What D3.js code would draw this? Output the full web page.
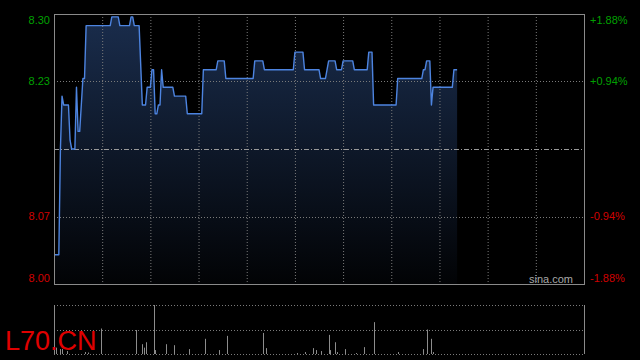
<!DOCTYPE html>
<html>
<head>
<meta charset="utf-8">
<script src="https://cdn.jsdelivr.net/npm/d3@7"></script>
<style>
  html, body { margin: 0; padding: 0; background: #000; }
  svg { display: block; }
  text { font-family: "Liberation Sans", Arial, sans-serif; }
</style>
</head>
<body>
<svg id="chart" width="640" height="360"></svg>
<script>
// previous close and the +/- percent ticks
const prevClose = 8.15;
const pctTicks = [1.88, 0.94, 0, -0.94, -1.88];
const sessionMinutes = 330;
const gridMinutes = d3.range(30, 330, 30);

// minute from open, price
const priceMinutes = [0, 3, 4, 5, 6, 9, 10, 11, 13, 14, 15, 16, 18, 19, 20, 35, 36, 40, 41, 47, 48, 49, 50, 53,
  55, 57, 58, 60, 61, 62, 63, 64, 65, 66, 67, 68, 74, 75, 82, 83, 92, 93, 101, 102, 106, 107, 124, 125,
  130, 131, 149, 150, 155, 156, 165, 166, 169, 171, 175, 176, 179, 180, 186, 187, 195, 196, 198, 199,
  213, 214, 229, 230, 231, 232, 234, 235, 236, 248, 249, 251];
const prices = [8.03, 8.03, 8.15, 8.21, 8.20, 8.20, 8.16, 8.15, 8.15, 8.22, 8.17, 8.17, 8.23, 8.23, 8.29, 8.29, 8.30, 8.30, 8.29, 8.29, 8.30, 8.30, 8.29, 8.29,
  8.20, 8.20, 8.22, 8.22, 8.24, 8.24, 8.19, 8.19, 8.20, 8.20, 8.24, 8.22, 8.22, 8.21, 8.21, 8.19, 8.19, 8.24, 8.24, 8.25, 8.25, 8.23, 8.23, 8.25,
  8.25, 8.24, 8.24, 8.26, 8.26, 8.24, 8.24, 8.23, 8.23, 8.25, 8.25, 8.24, 8.24, 8.25, 8.25, 8.24, 8.24, 8.26, 8.26, 8.20,
  8.20, 8.23, 8.23, 8.24, 8.24, 8.25, 8.25, 8.20, 8.22, 8.22, 8.24, 8.24];

// volume bars (minute, relative volume)
const volMinutes = [1, 4, 5, 8, 19, 21, 29, 51, 55, 56, 57, 62, 63, 70, 75, 84, 94, 103, 108, 130, 132,
  151, 156, 161, 163, 166, 171, 172, 175, 176, 181, 188, 193, 199, 214, 230, 232, 235, 236];
const volumes = [13, 10, 10, 6, 4, 3, 52, 49, 20, 13, 24, 140, 8, 20, 18, 10, 31, 8, 37, 43, 12,
  2, 4, 12, 8, 6, 39, 8, 24, 4, 10, 2, 14, 65, 4, 10, 50, 31, 4];

const symbol = 'L70.CN';
const brand = 'sina.com';

const plot = {l: 54, r: 584, t: 14, b: 284};
const volBox = {t: 305, b: 354};

const green = '#00a000', red = '#d00000', grid = '#7a7a7a';

const svg = d3.select('#chart');

const xS = d3.scaleLinear().domain([0, sessionMinutes]).range([plot.l, plot.r]);
const yS = d3.scaleLinear()
  .domain([prevClose * (1 - 0.0188), prevClose * (1 + 0.0188)])
  .range([plot.b, plot.t]);
const vS = d3.scaleLinear().domain([0, 100]).range([volBox.b, volBox.t]).clamp(true);

const pts = priceMinutes.map((m, i) => ({m, p: prices[i]}));

// gradient for area
const defs = svg.append('defs');
const grad = defs.append('linearGradient')
  .attr('id', 'areaGrad')
  .attr('gradientUnits', 'userSpaceOnUse')
  .attr('x1', 0).attr('x2', 0)
  .attr('y1', plot.t).attr('y2', plot.b);
grad.append('stop').attr('offset', '0%').attr('stop-color', '#1a2d4d');
grad.append('stop').attr('offset', '50%').attr('stop-color', '#0e1829');
grad.append('stop').attr('offset', '100%').attr('stop-color', '#020305');

svg.append('path')
  .datum(pts)
  .attr('fill', 'url(#areaGrad)')
  .attr('d', d3.area().x(d => xS(d.m)).y0(plot.b).y1(d => yS(d.p)));

// grid
const l_grid = svg.append('g');
l_grid.selectAll('.vgrid').data(gridMinutes)
  .join('line')
  .attr('x1', d => xS(d) + 0.5).attr('x2', d => xS(d) + 0.5)
  .attr('y1', plot.t).attr('y2', plot.b)
  .attr('stroke', grid).attr('stroke-dasharray', '1,2');

l_grid.selectAll('.hgrid').data(pctTicks.filter(p => Math.abs(p) < 1.5))
  .join('line')
  .attr('x1', plot.l).attr('x2', plot.r)
  .attr('y1', d => Math.round(yS(prevClose * (1 + d / 100))) + 0.5)
  .attr('y2', d => Math.round(yS(prevClose * (1 + d / 100))) + 0.5)
  .attr('stroke', d => d === 0 ? '#9a9a9a' : grid)
  .attr('stroke-dasharray', d => d === 0 ? '5,2,1,2' : '1,2');

// price line
svg.append('path')
  .datum(pts)
  .attr('fill', 'none')
  .attr('stroke', '#4d84e0')
  .attr('stroke-width', 1.4)
  .attr('stroke-linejoin', 'round')
  .attr('d', d3.line().x(d => xS(d.m)).y(d => yS(d.p)));

// frame
svg.append('rect')
  .attr('x', plot.l + 0.5).attr('y', plot.t + 0.5)
  .attr('width', plot.r - plot.l).attr('height', plot.b - plot.t)
  .attr('fill', 'none').attr('stroke', '#8a8a8a');

// labels
const labY = p => Math.min(Math.max(yS(prevClose * (1 + p / 100)), plot.t + 6), plot.b - 6);
const side = pctTicks.filter(p => p !== 0);
svg.selectAll('.lab_l').data(side)
  .join('text')
  .attr('x', plot.l - 4).attr('y', labY)
  .attr('dy', '0.35em')
  .attr('text-anchor', 'end')
  .attr('font-size', 11)
  .attr('fill', d => d > 0 ? green : red)
  .text(d => (prevClose * (1 + d / 100)).toFixed(2));

svg.selectAll('.lab_r').data(side)
  .join('text')
  .attr('x', plot.r + 6).attr('y', labY)
  .attr('dy', '0.35em')
  .attr('font-size', 11)
  .attr('fill', d => d > 0 ? green : red)
  .text(d => (d > 0 ? '+' : '') + d.toFixed(2) + '%');

svg.append('text')
  .attr('x', plot.r - 11).attr('y', plot.b - 5)
  .attr('dy', '0.35em')
  .attr('text-anchor', 'end')
  .attr('font-size', 11)
  .attr('fill', '#a8a8a8')
  .text(brand);

// volume panel
const vMid = (volBox.t + volBox.b) / 2;
svg.selectAll('.vol_h').data([volBox.t, Math.round(vMid), volBox.b])
  .join('line')
  .attr('x1', plot.l).attr('x2', plot.r)
  .attr('y1', d => d + 0.5).attr('y2', d => d + 0.5)
  .attr('stroke', grid).attr('stroke-dasharray', '1,2');

svg.selectAll('.vol_v').data([plot.l, plot.r])
  .join('line')
  .attr('x1', d => d + 0.5).attr('x2', d => d + 0.5)
  .attr('y1', volBox.t).attr('y2', volBox.b)
  .attr('stroke', '#8a8a8a');

svg.selectAll('.vbar').data(volMinutes.map((m, i) => ({m, v: volumes[i]})))
  .join('line')
  .attr('x1', d => Math.round(xS(d.m)) + 0.5).attr('x2', d => Math.round(xS(d.m)) + 0.5)
  .attr('y1', volBox.b).attr('y2', d => vS(d.v))
  .attr('stroke', '#8c8c8c');

svg.append('text')
  .attr('x', 5).attr('y', 350)
  .attr('font-size', 27)
  .attr('fill', '#e00000')
  .text(symbol);
</script>
</body>
</html>
